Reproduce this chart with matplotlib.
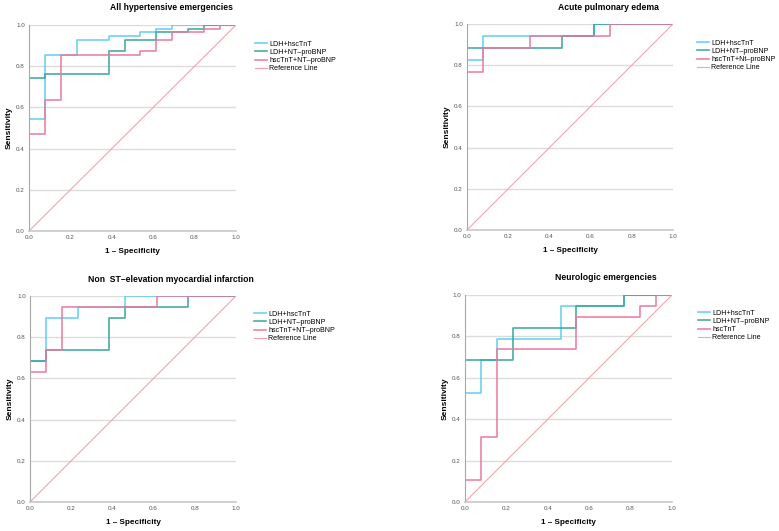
import numpy as np
import matplotlib
matplotlib.use("Agg")
import matplotlib.pyplot as plt

plt.rcParams['font.family'] = ['Liberation Sans', 'DejaVu Sans']

# --------------------------------------------------
# ROC data (1 - specificity, sensitivity)
# --------------------------------------------------
# All hypertensive emergencies
all_ldh_tnt_x = [0, 0, 0.077, 0.231, 0.385, 0.538, 0.615, 0.692, 1.0]
all_ldh_tnt_y = [0, 0.545, 0.855, 0.927, 0.945, 0.964, 0.982, 1.0, 1.0]
all_ldh_bnp_x = [0, 0, 0.077, 0.385, 0.462, 0.615, 0.769, 0.846, 1.0]
all_ldh_bnp_y = [0, 0.745, 0.764, 0.873, 0.927, 0.964, 0.982, 1.0, 1.0]
all_tnt_bnp_x = [0, 0, 0.077, 0.154, 0.538, 0.615, 0.692, 0.846, 0.923, 1.0]
all_tnt_bnp_y = [0, 0.473, 0.636, 0.855, 0.873, 0.927, 0.964, 0.982, 1.0, 1.0]

# Acute pulmonary edema
ape_ldh_tnt_x = [0, 0, 0.077, 0.615, 1.0]
ape_ldh_tnt_y = [0, 0.824, 0.941, 1.0, 1.0]
ape_ldh_bnp_x = [0, 0, 0.462, 0.615, 1.0]
ape_ldh_bnp_y = [0, 0.882, 0.941, 1.0, 1.0]
ape_tnt_bnp_x = [0, 0, 0.077, 0.308, 0.692, 1.0]
ape_tnt_bnp_y = [0, 0.765, 0.882, 0.941, 1.0, 1.0]

# Non ST-elevation myocardial infarction
nst_ldh_tnt_x = [0, 0, 0.077, 0.231, 0.462, 1.0]
nst_ldh_tnt_y = [0, 0.684, 0.895, 0.947, 1.0, 1.0]
nst_ldh_bnp_x = [0, 0, 0.077, 0.385, 0.462, 0.769, 1.0]
nst_ldh_bnp_y = [0, 0.684, 0.737, 0.895, 0.947, 1.0, 1.0]
nst_tnt_bnp_x = [0, 0, 0.077, 0.154, 0.615, 1.0]
nst_tnt_bnp_y = [0, 0.632, 0.737, 0.947, 1.0, 1.0]

# Neurologic emergencies
neu_ldh_tnt_x = [0, 0, 0.077, 0.154, 0.462, 0.769, 1.0]
neu_ldh_tnt_y = [0, 0.526, 0.684, 0.789, 0.947, 1.0, 1.0]
neu_ldh_bnp_x = [0, 0, 0.231, 0.538, 0.769, 1.0]
neu_ldh_bnp_y = [0, 0.684, 0.842, 0.947, 1.0, 1.0]
neu_tnt_x = [0, 0, 0.077, 0.154, 0.538, 0.846, 0.923, 1.0]
neu_tnt_y = [0, 0.105, 0.316, 0.737, 0.895, 0.947, 1.0, 1.0]

ticks = [0.0, 0.2, 0.4, 0.6, 0.8, 1.0]
tick_labels = ['0.0', '0.2', '0.4', '0.6', '0.8', '1.0']

c_blue = '#5ccdf0'
c_teal = '#35a39b'
c_pink = '#e8769d'
c_ref = '#f7a2ab'

W, H = 779, 531
fig = plt.figure(figsize=(W/100, H/100), dpi=100)

# panel: title, pixel box (left, top, right, bottom), series, legend anchor px
panels = [
    ('All hypertensive emergencies', (29, 25, 236, 231),
     [(all_ldh_tnt_x, all_ldh_tnt_y, c_blue, 'LDH+hscTnT'),
      (all_ldh_bnp_x, all_ldh_bnp_y, c_teal, 'LDH+NT\u2013proBNP'),
      (all_tnt_bnp_x, all_tnt_bnp_y, c_pink, 'hscTnT+NT\u2013proBNP')],
     (251, 37), 171),
    ('Acute pulmonary edema', (467, 24, 673, 230),
     [(ape_ldh_tnt_x, ape_ldh_tnt_y, c_blue, 'LDH+hscTnT'),
      (ape_ldh_bnp_x, ape_ldh_bnp_y, c_teal, 'LDH+NT\u2013proBNP'),
      (ape_tnt_bnp_x, ape_tnt_bnp_y, c_pink, 'hscTnT+Nt\u2013proBNP')],
     (693, 36), 608),
    ('Non  ST\u2013elevation myocardial infarction', (30, 296, 236, 502),
     [(nst_ldh_tnt_x, nst_ldh_tnt_y, c_blue, 'LDH+hscTnT'),
      (nst_ldh_bnp_x, nst_ldh_bnp_y, c_teal, 'LDH+NT\u2013proBNP'),
      (nst_tnt_bnp_x, nst_tnt_bnp_y, c_pink, 'hscTnT+NT\u2013proBNP')],
     (250, 307), 171),
    ('Neurologic emergencies', (465, 295, 672, 502),
     [(neu_ldh_tnt_x, neu_ldh_tnt_y, c_blue, 'LDH+hscTnT'),
      (neu_ldh_bnp_x, neu_ldh_bnp_y, c_teal, 'LDH+NT\u2013proBNP'),
      (neu_tnt_x, neu_tnt_y, c_pink, 'hscTnT')],
     (694, 306), 606),
]

for title, (l, t, r, b), series, (lx, ly), tx in panels:
    ax = fig.add_axes([l/W, 1 - b/H, (r - l)/W, (b - t)/H])
    ax.set_xlim(0, 1)
    ax.set_ylim(0, 1)
    for yy in ticks[1:]:
        ax.axhline(yy, color='#dcdcdc', lw=1.0, zorder=0)
    for sx, sy, col, lab in series:
        ax.plot(sx, sy, drawstyle='steps-post', color=col, lw=1.2,
                alpha=0.9, label=lab)
    ax.plot([0, 1], [0, 1], color=c_ref, lw=0.8, label='Reference Line')
    ax.set_xticks(ticks, labels=tick_labels)
    ax.set_yticks(ticks, labels=tick_labels)
    ax.tick_params(length=0, labelsize=4.5, colors='#555555', pad=3)
    for s in ['top', 'right']:
        ax.spines[s].set_visible(False)
    ax.spines['left'].set_color('#a8a8a8')
    ax.spines['bottom'].set_color('#c8c8c8')
    ax.spines['bottom'].set_linewidth(1.2)
    ax.set_xlabel('1 \u2013 Specificity', fontsize=5.9, fontweight='bold',
                  va='center')
    ax.xaxis.set_label_coords(0.5, -0.1)
    ax.set_ylabel('Sensitivity', fontsize=6.0, fontweight='bold',
                  va='center')
    ax.yaxis.set_label_coords(-0.095, 0.5)
    fig.text(tx/W, 1 - (t - 17)/H, title, ha='center', va='center',
             fontsize=6.2, fontweight='bold')
    ax.legend(loc='upper left', bbox_to_anchor=(lx/W, 1 - ly/H),
              bbox_transform=fig.transFigure, frameon=False, fontsize=5.1,
              handlelength=1.7, handletextpad=0.4, labelspacing=0.18,
              borderpad=0)

fig.savefig('out.png', dpi=100)
